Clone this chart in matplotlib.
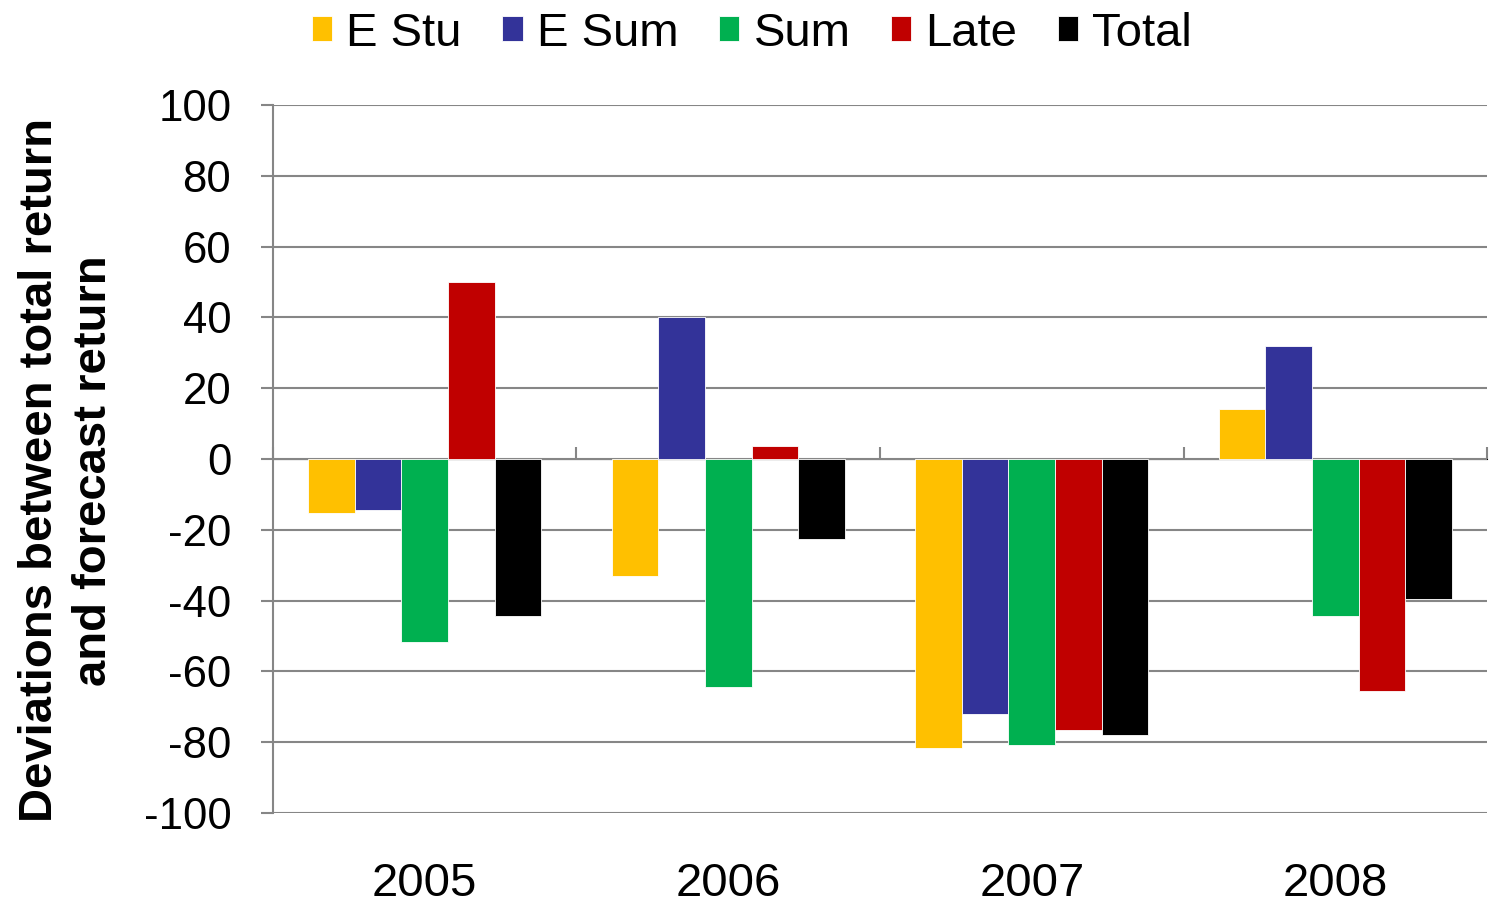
import numpy as np
import matplotlib
matplotlib.use("Agg")
import matplotlib.pyplot as plt

plt.rcParams["font.family"] = ["Liberation Sans", "DejaVu Sans"]
plt.rcParams["axes.unicode_minus"] = False

# ── données ──────────────────────────────────────────────
years  = ["2005", "2006", "2007", "2008"]
series = ["E Stu", "E Sum", "Sum", "Late", "Total"]
e_stu  = [-15.2, -33.0, -81.5, 14.0]
e_sum  = [-14.4,  40.0, -72.0, 32.0]
summ   = [-51.6, -64.5, -80.7, -44.4]
late   = [ 50.0,   3.7, -76.5, -65.5]
total  = [-44.4, -22.5, -78.0, -39.6]
colors = ["#FFC000", "#333399", "#00B050", "#C00000", "#000000"]

values = [e_stu, e_sum, summ, late, total]
grey = "#868686"

fig = plt.figure(figsize=(14.9, 9.07), dpi=100)
ax = fig.add_axes([0.1832, 0.1036, 0.998 - 0.1832, 0.8842 - 0.1036])

x = np.arange(len(years))
w = 1 / (len(series) + 1.5)
for j, (name, vals, c) in enumerate(zip(series, values, colors)):
    ax.bar(x + (j - 2) * w, vals, width=w, color=c, label=name,
           edgecolor="white", linewidth=0.6, zorder=2)

ax.set_xlim(-0.5, 3.5)
ax.set_ylim(-100, 100)
ax.set_yticks(np.arange(-100, 101, 20))
ax.yaxis.grid(True, color=grey, linewidth=1.5, zorder=0)
ax.set_axisbelow(True)

for s in ["top", "right", "bottom"]:
    ax.spines[s].set_visible(False)
ax.spines["left"].set_color(grey)
ax.spines["left"].set_linewidth(1.5)
ax.tick_params(axis="y", colors=grey, length=9, width=1.5, labelsize=31.5,
               labelcolor="black", pad=21)

ax.set_xticks(x)
ax.set_xticklabels(years)
ax.tick_params(axis="x", length=0, labelsize=34, pad=35)

# axe horizontal au niveau zéro, avec les séparateurs de catégories
zero = ax.secondary_xaxis(0.5)
zero.set_xticks(np.arange(-0.5, 4, 1.0))
zero.set_xticklabels([])
zero.spines["bottom"].set_color(grey)
zero.spines["bottom"].set_linewidth(2)
zero.spines["bottom"].set_zorder(3)
zero.tick_params(axis="x", colors=grey, length=9, width=1.5, direction="out")

ax.set_ylabel("Deviations between total return\nand forecast return",
              fontsize=34, fontweight="bold", linespacing=1.3)
ax.yaxis.set_label_coords(-0.129, 0.484)

fig.legend(loc="upper center", bbox_to_anchor=(0.5047, 1.034), ncol=5,
           frameon=False, fontsize=34, handlelength=0.43, handleheight=0.43,
           handletextpad=0.3, columnspacing=0.86)

fig.savefig("out.png", dpi=100)
